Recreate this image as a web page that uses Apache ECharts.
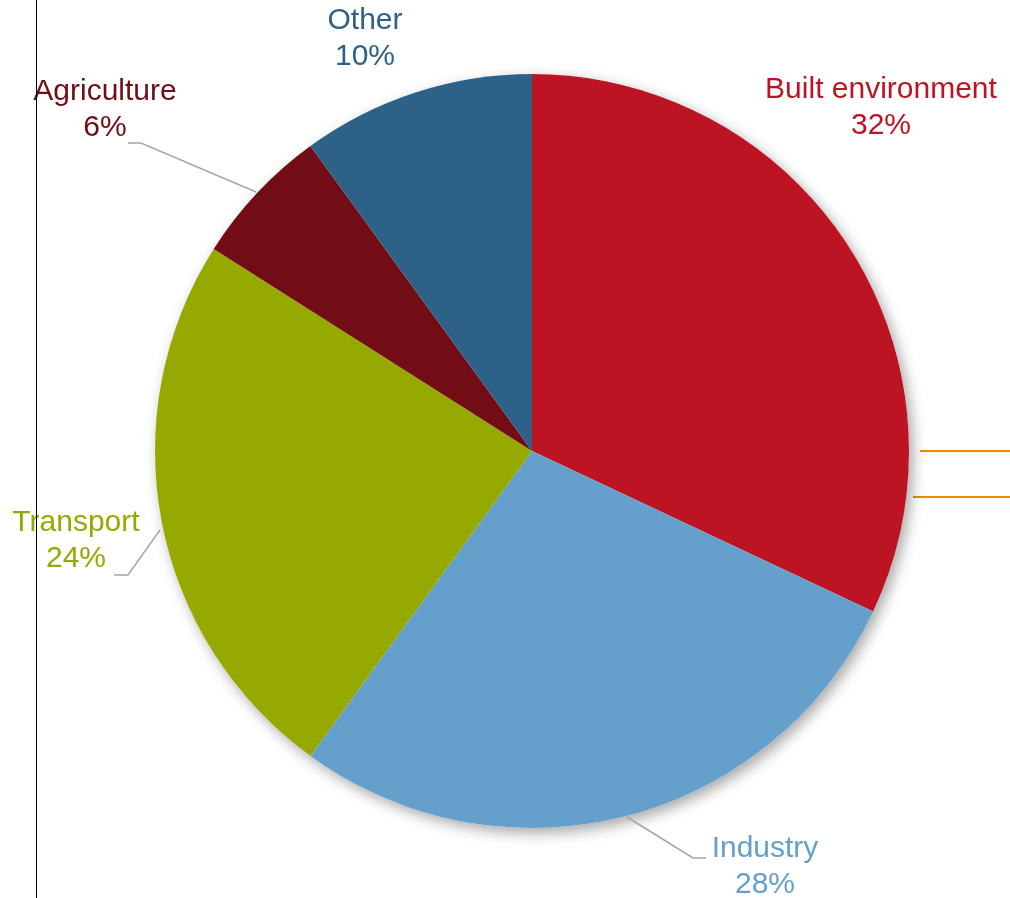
<!DOCTYPE html>
<html>
<head>
<meta charset="utf-8">
<script src="https://cdn.jsdelivr.net/npm/echarts@6/dist/echarts.min.js"></script>
<style>
  html, body { margin: 0; padding: 0; background: #ffffff; }
  #chart { width: 1010px; height: 898px; }
</style>
</head>
<body>
<div id="chart"></div>
<script>
// Emissions share by sector (percent)
const sectors = ['Built environment', 'Industry', 'Transport', 'Agriculture', 'Other'];
const shares = [32, 28, 24, 6, 10];
const sliceColors = ['#BD1424', '#659FCB', '#96A900', '#720D15', '#2E6187'];

// Where each label sits (text block centre) and its leader line, per sector
const labelSpots = [
  { x: 881, y: 108, line: null },
  { x: 765, y: 867, line: [[627, 817], [693, 858], [706, 858]] },
  { x: 76, y: 541, line: [[160, 530], [128, 575], [114, 575]] },
  { x: 105, y: 110, line: [[256, 192], [141, 143], [128, 143]] },
  { x: 365, y: 39, line: null }
];

const chart = echarts.init(document.getElementById('chart'), null, { renderer: 'canvas' });

const data = sectors.map((name, i) => ({
  name: name,
  value: shares[i],
  itemStyle: { color: sliceColors[i] },
  label: { color: sliceColors[i] },
  labelLine: { show: !!labelSpots[i].line }
}));

const total = shares.reduce((a, b) => a + b, 0);

chart.setOption({
  animation: false,
  backgroundColor: '#ffffff',
  graphic: [
    { type: 'line', shape: { x1: 36.5, y1: 0, x2: 36.5, y2: 898 }, style: { stroke: '#000000', lineWidth: 1 }, z: 10 },
    { type: 'line', shape: { x1: 920, y1: 451, x2: 1010, y2: 451 }, style: { stroke: '#F08A00', lineWidth: 2 } },
    { type: 'line', shape: { x1: 913, y1: 497, x2: 1010, y2: 497 }, style: { stroke: '#F08A00', lineWidth: 2 } }
  ],
  series: [
    {
      // soft drop shadow under the whole disc
      type: 'pie',
      silent: true,
      z: 1,
      center: [532, 451],
      radius: [0, 377],
      data: [{ value: total, itemStyle: { color: '#ffffff' } }],
      itemStyle: {
        shadowBlur: 14,
        shadowOffsetX: 4,
        shadowOffsetY: 5,
        shadowColor: 'rgba(0,0,0,0.35)'
      },
      label: { show: false },
      labelLine: { show: false },
      tooltip: { show: false }
    },
    {
      type: 'pie',
      z: 2,
      center: [532, 451],
      radius: [0, 377],
      startAngle: 90,
      clockwise: true,
      data: data,
      itemStyle: { borderWidth: 0 },
      label: {
        show: true,
        position: 'outside',
        formatter: p => p.name + '\n' + p.value + '%',
        fontFamily: '"Liberation Sans", Arial, sans-serif',
        fontSize: 30,
        lineHeight: 36,
        align: 'center',
        overflow: 'none',
        width: 300
      },
      labelLine: {
        show: true,
        lineStyle: { color: '#A6A6A6', width: 1.5 }
      },
      labelLayout: function (params) {
        const spot = labelSpots[params.dataIndex];
        const out = {
          x: spot.x,
          y: spot.y,
          align: 'center',
          verticalAlign: 'middle'
        };
        if (spot.line) out.labelLinePoints = spot.line;
        return out;
      },
      emphasis: { disabled: true }
    }
  ]
});
</script>
</body>
</html>
